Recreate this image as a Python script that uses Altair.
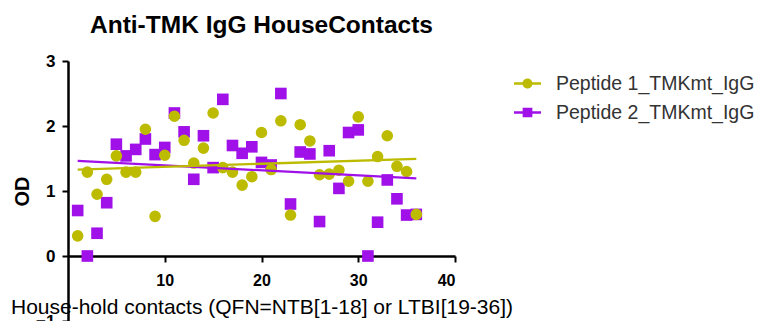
import altair as alt
import pandas as pd

contacts = list(range(1, 37))
pep1 = [0.31, 1.29, 0.95, 1.18, 1.54, 1.29, 1.29, 1.95, 0.61, 1.55, 2.15, 1.78,
        1.43, 1.66, 2.20, 1.36, 1.29, 1.09, 1.22, 1.90, 1.33, 2.08, 0.63, 2.02,
        1.77, 1.25, 1.26, 1.32, 1.15, 2.14, 1.15, 1.53, 1.85, 1.38, 1.30, 0.64]
pep2 = [0.70, 0.00, 0.35, 0.82, 1.72, 1.54, 1.64, 1.80, 1.56, 1.67, 2.20, 1.91,
        1.18, 1.85, 1.36, 2.41, 1.70, 1.58, 1.68, 1.44, 1.40, 2.50, 0.80, 1.60,
        1.57, 0.53, 1.62, 1.04, 1.90, 1.94, 0.00, 0.52, 1.17, 0.88, 0.63, 0.64]
series = ["Peptide 1_TMKmt_IgG", "Peptide 2_TMKmt_IgG"]
colors = ["#BDBB00", "#A010E8"]
x_ticks = [10, 20, 30, 40]
y_ticks = [-1, 0, 1, 2, 3]

df = pd.DataFrame({
    "contact": contacts * 2,
    "od": pep1 + pep2,
    "series": [series[0]] * len(pep1) + [series[1]] * len(pep2),
})

FONT = "Liberation Sans"
W, H = 387, 260

x_enc = alt.X(
    "contact:Q",
    scale=alt.Scale(domain=[0, 40], nice=False, zero=False),
    axis=alt.Axis(
        values=x_ticks, offset=-65, grid=False,
        title="House-hold contacts (QFN=NTB[1-18] or LTBI[19-36])",
        titleFont=FONT, titleFontSize=21, titleFontWeight="normal", titleColor="black",
        titleX=W / 2, titleY=51, titleBaseline="middle", titleAlign="center",
        labelFont=FONT, labelFontSize=16, labelFontWeight="bold", labelColor="black",
        labelPadding=10, tickSize=6, tickWidth=2, tickColor="black",
        domainWidth=2.5, domainColor="black",
    ),
)
y_enc = alt.Y(
    "od:Q",
    scale=alt.Scale(domain=[-1, 3], nice=False, zero=False),
    axis=alt.Axis(
        values=y_ticks, grid=False, title="OD",
        titleFont=FONT, titleFontSize=20, titleFontWeight="bold", titleColor="black",
        titleX=-46, titleY=H / 2, titleBaseline="middle", titleAlign="center", titleAngle=270,
        labelFont=FONT, labelFontSize=17, labelFontWeight="bold", labelColor="black",
        labelPadding=7, tickSize=6, tickWidth=2, tickColor="black",
        domainWidth=2.5, domainColor="black",
    ),
)

base = alt.Chart(df)

def pts(name, shape, color):
    return base.transform_filter(alt.datum.series == name).mark_point(
        shape=shape, filled=True, size=135, opacity=1, color=color, strokeWidth=0
    ).encode(x=x_enc, y=y_enc)

def reg(name, color):
    return base.transform_filter(alt.datum.series == name).transform_regression(
        "contact", "od"
    ).mark_line(color=color, strokeWidth=2.3).encode(x=x_enc, y=y_enc)

circle_path = ("M-1,-0.085H1V0.085H-1Z "
               "M0.37,0A0.37,0.37 0 1,1 -0.37,0A0.37,0.37 0 1,1 0.37,0Z")
square_path = "M-1,-0.085H1V0.085H-1Z M-0.36,-0.36H0.36V0.36H-0.36Z"

leg = dict(title=None, orient="none", legendX=446, legendY=9, symbolSize=729,
           labelFont=FONT, labelFontSize=19.5, labelColor="#333333", labelOffset=15,
           labelLimit=400, rowPadding=6, symbolStrokeWidth=0, symbolOpacity=1, padding=0)

legend_layer = base.transform_filter("false").mark_point(filled=True).encode(
    x=x_enc, y=y_enc,
    color=alt.Color("series:N", scale=alt.Scale(domain=series, range=colors),
                    legend=alt.Legend(**leg)),
    shape=alt.Shape("series:N", scale=alt.Scale(domain=series, range=[circle_path, square_path]),
                    legend=alt.Legend(**leg)),
)

chart = alt.layer(
    legend_layer,
    pts(series[1], "square", colors[1]),
    pts(series[0], "circle", colors[0]),
    reg(series[1], colors[1]),
    reg(series[0], colors[0]),
).properties(
    width=W, height=H,
    title=alt.TitleParams("Anti-TMK IgG HouseContacts", font=FONT, fontSize=24.5,
                          fontWeight="bold", color="black", anchor="middle",
                          baseline="alphabetic", offset=-5),
    autosize=alt.AutoSizeParams(type="none"),
    padding={"left": 60, "top": 53, "right": 304, "bottom": 0},
).configure_view(stroke=None)

chart.save("out.html", embed_options={"renderer": "svg", "actions": False})
